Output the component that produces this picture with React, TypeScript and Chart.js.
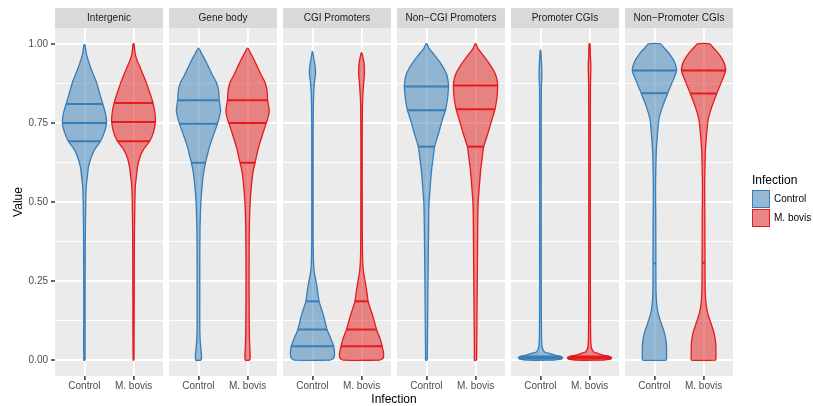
import React, { useEffect, useRef } from "react";
import { Chart, registerables } from "chart.js";

Chart.register(...registerables);

// ---------- data ----------
const facets = ["Intergenic", "Gene body", "CGI Promoters", "Non\u2212CGI Promoters", "Promoter CGIs", "Non\u2212Promoter CGIs"];
const infections = ["Control", "M. bovis"];
const yTickValues = [0, 0.125, 0.25, 0.375, 0.5, 0.625, 0.75, 0.875, 1];

// violin outlines: value levels (y) and relative half-widths (w, 1 = widest)
const intergenicControlY = [0.0, 0.2, 0.4, 0.5, 0.55, 0.58, 0.61, 0.64, 0.665, 0.692, 0.72, 0.75, 0.78, 0.81, 0.84, 0.877, 0.9, 0.925, 0.95, 0.97, 0.997];
const intergenicControlW = [0.03, 0.03, 0.04, 0.06, 0.08, 0.13, 0.18, 0.3, 0.45, 0.73, 0.9, 1.0, 0.95, 0.83, 0.7, 0.55, 0.42, 0.28, 0.16, 0.08, 0.02];
const intergenicControlQ = [0.692, 0.75, 0.81];
const intergenicBovisY = [0.0, 0.2, 0.4, 0.5, 0.55, 0.58, 0.61, 0.64, 0.665, 0.692, 0.72, 0.753, 0.78, 0.813, 0.84, 0.875, 0.9, 0.925, 0.95, 0.97, 1.0];
const intergenicBovisW = [0.02, 0.03, 0.04, 0.06, 0.08, 0.13, 0.18, 0.28, 0.44, 0.73, 0.9, 0.99, 0.97, 0.88, 0.76, 0.59, 0.45, 0.3, 0.15, 0.07, 0.02];
const intergenicBovisQ = [0.692, 0.753, 0.813];

const geneBodyControlY = [0.0, 0.01, 0.03, 0.06, 0.1, 0.2, 0.3, 0.41, 0.5, 0.569, 0.6, 0.624, 0.65, 0.675, 0.7, 0.72, 0.747, 0.77, 0.79, 0.822, 0.854, 0.88, 0.9, 0.925, 0.949, 0.97, 0.986];
const geneBodyControlW = [0.12, 0.14, 0.12, 0.08, 0.06, 0.06, 0.06, 0.07, 0.11, 0.19, 0.25, 0.32, 0.41, 0.5, 0.62, 0.72, 0.86, 0.95, 1.0, 0.94, 0.91, 0.8, 0.64, 0.47, 0.31, 0.14, 0.02];
const geneBodyControlQ = [0.624, 0.747, 0.822];
const geneBodyBovisY = [0.0, 0.01, 0.03, 0.06, 0.1, 0.2, 0.3, 0.41, 0.5, 0.569, 0.6, 0.624, 0.65, 0.675, 0.7, 0.72, 0.75, 0.77, 0.79, 0.822, 0.854, 0.88, 0.9, 0.925, 0.949, 0.97, 0.986];
const geneBodyBovisW = [0.1, 0.12, 0.11, 0.09, 0.08, 0.07, 0.07, 0.08, 0.12, 0.2, 0.26, 0.34, 0.42, 0.51, 0.62, 0.71, 0.85, 0.94, 0.98, 0.91, 0.88, 0.78, 0.63, 0.46, 0.3, 0.14, 0.02];
const geneBodyBovisQ = [0.624, 0.75, 0.822];

const cgiPromControlY = [0.0, 0.006, 0.02, 0.044, 0.068, 0.097, 0.137, 0.186, 0.216, 0.25, 0.285, 0.33, 0.4, 0.55, 0.7, 0.8, 0.833, 0.86, 0.885, 0.906, 0.93, 0.95, 0.975];
const cgiPromControlW = [0.8, 0.95, 1.0, 0.96, 0.83, 0.66, 0.52, 0.3, 0.24, 0.16, 0.07, 0.04, 0.03, 0.03, 0.03, 0.04, 0.05, 0.07, 0.1, 0.14, 0.12, 0.07, 0.01];
const cgiPromControlQ = [0.044, 0.097, 0.186];
const cgiPromBovisY = [0.0, 0.006, 0.02, 0.044, 0.068, 0.097, 0.137, 0.186, 0.216, 0.25, 0.285, 0.33, 0.4, 0.55, 0.7, 0.8, 0.84, 0.87, 0.895, 0.92, 0.94, 0.955, 0.972];
const cgiPromBovisW = [0.82, 0.97, 1.0, 0.93, 0.84, 0.68, 0.52, 0.3, 0.24, 0.16, 0.08, 0.045, 0.035, 0.03, 0.03, 0.04, 0.06, 0.09, 0.12, 0.13, 0.11, 0.07, 0.01];
const cgiPromBovisQ = [0.044, 0.097, 0.186];

const nonCgiPromControlY = [0.0, 0.02, 0.1, 0.25, 0.44, 0.5, 0.548, 0.6, 0.622, 0.65, 0.675, 0.71, 0.76, 0.79, 0.82, 0.845, 0.865, 0.877, 0.9, 0.918, 0.94, 0.97, 0.985, 1.0];
const nonCgiPromControlW = [0.04, 0.04, 0.05, 0.07, 0.1, 0.12, 0.17, 0.23, 0.27, 0.32, 0.37, 0.52, 0.72, 0.86, 0.94, 0.98, 1.0, 0.99, 0.93, 0.82, 0.63, 0.3, 0.12, 0.02];
const nonCgiPromControlQ = [0.675, 0.79, 0.865];
const nonCgiPromBovisY = [0.0, 0.02, 0.1, 0.25, 0.44, 0.5, 0.548, 0.6, 0.622, 0.65, 0.675, 0.71, 0.76, 0.793, 0.82, 0.845, 0.868, 0.88, 0.9, 0.918, 0.94, 0.97, 0.985, 1.0];
const nonCgiPromBovisW = [0.05, 0.05, 0.06, 0.08, 0.1, 0.12, 0.17, 0.23, 0.27, 0.32, 0.37, 0.53, 0.74, 0.88, 0.95, 0.99, 1.0, 0.99, 0.92, 0.8, 0.6, 0.28, 0.11, 0.02];
const nonCgiPromBovisQ = [0.675, 0.793, 0.868];

const promCgiControlY = [0.0, 0.004, 0.008, 0.012, 0.016, 0.021, 0.026, 0.036, 0.046, 0.07, 0.15, 0.4, 0.7, 0.86, 0.89, 0.92, 0.95, 0.98];
const promCgiControlW = [0.6, 0.95, 1.0, 0.9, 0.65, 0.42, 0.19, 0.1, 0.07, 0.05, 0.04, 0.035, 0.035, 0.04, 0.06, 0.06, 0.04, 0.01];
const promCgiControlQ = [0.005, 0.008, 0.012];
const promCgiBovisY = [0.0, 0.004, 0.008, 0.012, 0.016, 0.021, 0.026, 0.036, 0.046, 0.07, 0.15, 0.4, 0.7, 0.86, 0.9, 0.93, 0.96, 1.0];
const promCgiBovisW = [0.62, 0.96, 1.0, 0.88, 0.62, 0.4, 0.19, 0.1, 0.07, 0.05, 0.04, 0.035, 0.035, 0.04, 0.05, 0.06, 0.04, 0.02];
const promCgiBovisQ = [0.005, 0.008, 0.012];

const nonPromCgiControlY = [0.0, 0.01, 0.026, 0.053, 0.085, 0.116, 0.148, 0.18, 0.22, 0.306, 0.44, 0.55, 0.655, 0.707, 0.76, 0.8, 0.844, 0.886, 0.916, 0.945, 0.97, 0.99, 1.0];
const nonPromCgiControlW = [0.54, 0.55, 0.55, 0.54, 0.46, 0.31, 0.17, 0.1, 0.07, 0.065, 0.06, 0.05, 0.08, 0.13, 0.2, 0.36, 0.6, 0.85, 1.0, 0.89, 0.66, 0.4, 0.28];
const nonPromCgiControlQ = [0.306, 0.844, 0.916];
const nonPromCgiBovisY = [0.0, 0.01, 0.026, 0.053, 0.085, 0.116, 0.148, 0.18, 0.22, 0.308, 0.44, 0.55, 0.655, 0.707, 0.76, 0.8, 0.843, 0.886, 0.916, 0.945, 0.97, 0.99, 1.0];
const nonPromCgiBovisW = [0.55, 0.56, 0.56, 0.55, 0.48, 0.34, 0.19, 0.11, 0.075, 0.065, 0.06, 0.05, 0.08, 0.13, 0.21, 0.37, 0.6, 0.85, 1.0, 0.9, 0.67, 0.41, 0.28];
const nonPromCgiBovisQ = [0.308, 0.843, 0.916];

const violins = [
  { facet: 0, group: 0, y: intergenicControlY, w: intergenicControlW, q: intergenicControlQ },
  { facet: 0, group: 1, y: intergenicBovisY, w: intergenicBovisW, q: intergenicBovisQ },
  { facet: 1, group: 0, y: geneBodyControlY, w: geneBodyControlW, q: geneBodyControlQ },
  { facet: 1, group: 1, y: geneBodyBovisY, w: geneBodyBovisW, q: geneBodyBovisQ },
  { facet: 2, group: 0, y: cgiPromControlY, w: cgiPromControlW, q: cgiPromControlQ },
  { facet: 2, group: 1, y: cgiPromBovisY, w: cgiPromBovisW, q: cgiPromBovisQ },
  { facet: 3, group: 0, y: nonCgiPromControlY, w: nonCgiPromControlW, q: nonCgiPromControlQ },
  { facet: 3, group: 1, y: nonCgiPromBovisY, w: nonCgiPromBovisW, q: nonCgiPromBovisQ },
  { facet: 4, group: 0, y: promCgiControlY, w: promCgiControlW, q: promCgiControlQ },
  { facet: 4, group: 1, y: promCgiBovisY, w: promCgiBovisW, q: promCgiBovisQ },
  { facet: 5, group: 0, y: nonPromCgiControlY, w: nonPromCgiControlW, q: nonPromCgiControlQ },
  { facet: 5, group: 1, y: nonPromCgiBovisY, w: nonPromCgiBovisW, q: nonPromCgiBovisQ },
];

// ---------- layout / style ----------
const PANEL_UNITS = 2.2;
const GAP_UNITS = 0.1222;
const GROUP_POS = [0.6, 1.6];
const HALF_WIDTH = 0.45;
const X_MAX = facets.length * PANEL_UNITS + (facets.length - 1) * GAP_UNITS;
const LINE_COLORS = ["#377EB8", "#E41A1C"];
const FILL_COLORS = ["rgba(55,126,184,0.5)", "rgba(228,26,28,0.5)"];
const FONT = '"Liberation Sans", Arial, Helvetica, sans-serif';

const panelStart = (i: number) => i * (PANEL_UNITS + GAP_UNITS);

function interp(ys: number[], ws: number[], v: number) {
  if (v <= ys[0]) return ws[0];
  for (let i = 1; i < ys.length; i++) {
    if (v <= ys[i]) {
      const t = (v - ys[i - 1]) / (ys[i] - ys[i - 1]);
      return ws[i - 1] + t * (ws[i] - ws[i - 1]);
    }
  }
  return ws[ws.length - 1];
}

const panelsPlugin = {
  id: "facetPanels",
  beforeDraw(chart: any) {
    const { ctx, chartArea, scales } = chart;
    const xs = scales.x;
    ctx.save();
    facets.forEach((name, i) => {
      const x0 = xs.getPixelForValue(panelStart(i));
      const x1 = xs.getPixelForValue(panelStart(i) + PANEL_UNITS);
      ctx.fillStyle = "#EBEBEB";
      ctx.fillRect(x0, chartArea.top, x1 - x0, chartArea.bottom - chartArea.top);
      ctx.fillStyle = "#D9D9D9";
      ctx.fillRect(x0, chartArea.top - 20, x1 - x0, 20);
      ctx.fillStyle = "#1A1A1A";
      ctx.font = `10px ${FONT}`;
      ctx.textAlign = "center";
      ctx.textBaseline = "middle";
      ctx.fillText(name, (x0 + x1) / 2, chartArea.top - 10);
    });
    ctx.restore();
  },
};

const isMajor = (v: number) => Math.abs(v * 4 - Math.round(v * 4)) < 1e-6;

export default function App() {
  const canvasRef = useRef<HTMLCanvasElement | null>(null);

  useEffect(() => {
    if (!canvasRef.current) return;
    Chart.defaults.font.family = FONT;

    const datasets: any[] = [];
    violins.forEach((v) => {
      const cx = panelStart(v.facet) + GROUP_POS[v.group];
      const right = v.y.map((y, i) => ({ x: cx + v.w[i] * HALF_WIDTH, y }));
      const left = v.y.map((y, i) => ({ x: cx - v.w[i] * HALF_WIDTH, y })).reverse();
      datasets.push({
        data: [...right, ...left, right[0]],
        showLine: true,
        fill: "shape",
        backgroundColor: FILL_COLORS[v.group],
        borderColor: LINE_COLORS[v.group],
        borderWidth: 1.3,
        borderJoinStyle: "round",
        pointRadius: 0,
        tension: 0.2,
      });
      v.q.forEach((q) => {
        const hw = interp(v.y, v.w, q) * HALF_WIDTH;
        datasets.push({
          data: [{ x: cx - hw, y: q }, { x: cx + hw, y: q }],
          showLine: true,
          fill: false,
          borderColor: LINE_COLORS[v.group],
          borderWidth: 2,
          pointRadius: 0,
        });
      });
    });

    const xTickValues: number[] = [];
    facets.forEach((_, i) => GROUP_POS.forEach((g) => xTickValues.push(panelStart(i) + g)));

    const chart = new Chart(canvasRef.current, {
      type: "scatter",
      data: { datasets },
      plugins: [panelsPlugin],
      options: {
        animation: false,
        responsive: false,
        events: [],
        layout: { padding: { top: 28, right: 80, left: 0, bottom: 0 } },
        plugins: { legend: { display: false }, tooltip: { enabled: false } },
        scales: {
          x: {
            type: "linear",
            min: 0,
            max: X_MAX,
            afterBuildTicks: (s: any) => {
              s.ticks = xTickValues.map((value) => ({ value }));
            },
            afterFit: (s: any) => {
              s.height = 30;
            },
            ticks: {
              callback: (_v: any, i: number) => infections[i % 2],
              color: "#4D4D4D",
              font: { size: 10 },
              padding: 0,
              maxRotation: 0,
              autoSkip: false,
            },
            grid: { color: "#FFFFFF", lineWidth: 1.8, tickLength: 4, tickColor: "#333333", tickWidth: 1.5 },
            border: { display: false },
            title: { display: true, text: "Infection", color: "#000000", font: { size: 12, lineHeight: 1 }, padding: 0 },
          },
          y: {
            type: "linear",
            min: -0.05,
            max: 1.05,
            afterBuildTicks: (s: any) => {
              s.ticks = yTickValues.map((value) => ({ value }));
            },
            afterFit: (s: any) => {
              s.width = 55;
            },
            ticks: {
              callback: (v: any) => (isMajor(Number(v)) ? Number(v).toFixed(2) : ""),
              color: "#4D4D4D",
              font: { size: 10 },
              padding: 3,
            },
            grid: {
              color: "#FFFFFF",
              lineWidth: (c: any) => (c.tick && isMajor(c.tick.value) ? 2 : 1),
              tickLength: 4,
              tickWidth: 1.5,
              tickColor: (c: any) => (c.tick && isMajor(c.tick.value) ? "#333333" : "rgba(0,0,0,0)"),
            },
            border: { display: false },
            title: { display: true, text: "Value", color: "#000000", font: { size: 12 }, padding: { top: 11, bottom: 0 } },
          },
        },
      } as any,
    });
    return () => chart.destroy();
  }, []);

  const keyBox = (i: number, top: number) => (
    <div
      style={{
        position: "absolute",
        left: 752,
        top,
        width: 18,
        height: 18,
        boxSizing: "border-box",
        background: "#F2F2F2",
      }}
    >
      <div
        style={{
          position: "absolute",
          left: 0,
          top: 0,
          right: 0,
          bottom: 0,
          background: FILL_COLORS[i],
          border: `1px solid ${LINE_COLORS[i]}`,
        }}
      />
    </div>
  );

  const textStyle: React.CSSProperties = {
    position: "absolute",
    fontFamily: FONT,
    whiteSpace: "nowrap",
    color: "#000000",
  };

  return (
    <div style={{ position: "absolute", left: 0, top: 0, width: 813, height: 406, background: "#FFFFFF" }}>
      <canvas ref={canvasRef} width={813} height={406} style={{ position: "absolute", left: 0, top: 0, width: 813, height: 406 }} />
      <div style={{ ...textStyle, left: 752, top: 173, fontSize: 12, lineHeight: "14px" }}>Infection</div>
      {keyBox(0, 190)}
      {keyBox(1, 209)}
      <div style={{ ...textStyle, left: 774, top: 193, fontSize: 10, lineHeight: "12px" }}>{infections[0]}</div>
      <div style={{ ...textStyle, left: 774, top: 212, fontSize: 10, lineHeight: "12px" }}>{infections[1]}</div>
    </div>
  );
}
